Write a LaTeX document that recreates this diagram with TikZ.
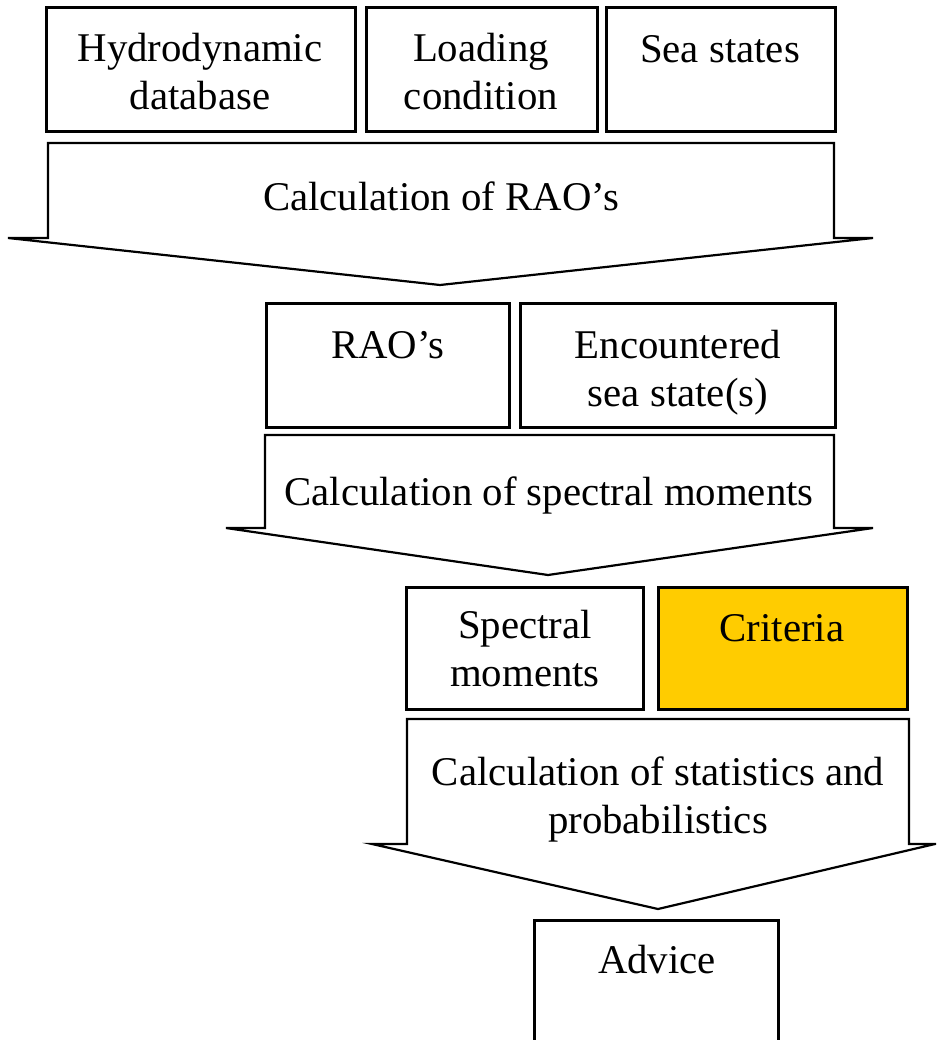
\documentclass[tikz,border=0pt]{standalone}
\usepackage{fontspec}
\setmainfont{Liberation Serif}
\definecolor{critfill}{RGB}{255,204,0}
\begin{document}
\begin{tikzpicture}[x=1pt,y=-1pt,
  box/.style={draw=black,line width=3pt,fill=white},
  flow/.style={draw=black,line width=2.2pt,fill=white,line join=miter},
  lbl/.style={font=\fontsize{40.8}{48}\selectfont,align=center,anchor=base,inner sep=0pt}]
\useasboundingbox (0,0) rectangle (936,1040);
\clip (0,0) rectangle (936,1040);
% row 1 boxes
\draw[box] (46,8) rectangle (355,132);
\draw[box] (366,8) rectangle (597,132);
\draw[box] (606,8) rectangle (835,132);
\node[lbl] (hd) at (200,110) {Hydrodynamic\\database};
\node[lbl] (lc) at (481,110) {Loading\\condition};
\node[lbl] (ss) at (720,63) {Sea states};
% arrow 1
\draw[flow] (48,143) -- (834,143) -- (834,238) -- (873,238) -- (440,285) -- (8,238) -- (48,238) -- cycle;
\node[lbl] (c1) at (441,211) {Calculation of RAO’s};
% row 2 boxes
\draw[box] (266,303) rectangle (509,427);
\draw[box] (520,303) rectangle (835,427);
\node[lbl] (rao) at (388,358) {RAO’s};
\node[lbl] (enc) at (678,406) {Encountered\\sea state(s)};
% arrow 2
\draw[flow] (265,435) -- (834,435) -- (834,528) -- (873,528) -- (548,575) -- (226,528) -- (265,528) -- cycle;
\node[lbl] (c2) at (549,505) {Calculation of spectral moments};
% row 3 boxes
\draw[box] (406,587) rectangle (643,709);
\draw[box,fill=critfill] (658,587) rectangle (907,709);
\node[lbl] (sm) at (525,686) {Spectral\\moments};
\node[lbl] (cr) at (782,641) {Criteria};
% arrow 3
\draw[flow] (407,719) -- (909,719) -- (909,844) -- (935,844) -- (658,909) -- (372,844) -- (407,844) -- cycle;
\node[lbl] (c3) at (658,833) {Calculation of statistics and\\probabilistics};
% advice
\draw[box] (534,920) rectangle (778,1060);
\node[lbl] (adv) at (657,973) {Advice};
\end{tikzpicture}
\end{document}
